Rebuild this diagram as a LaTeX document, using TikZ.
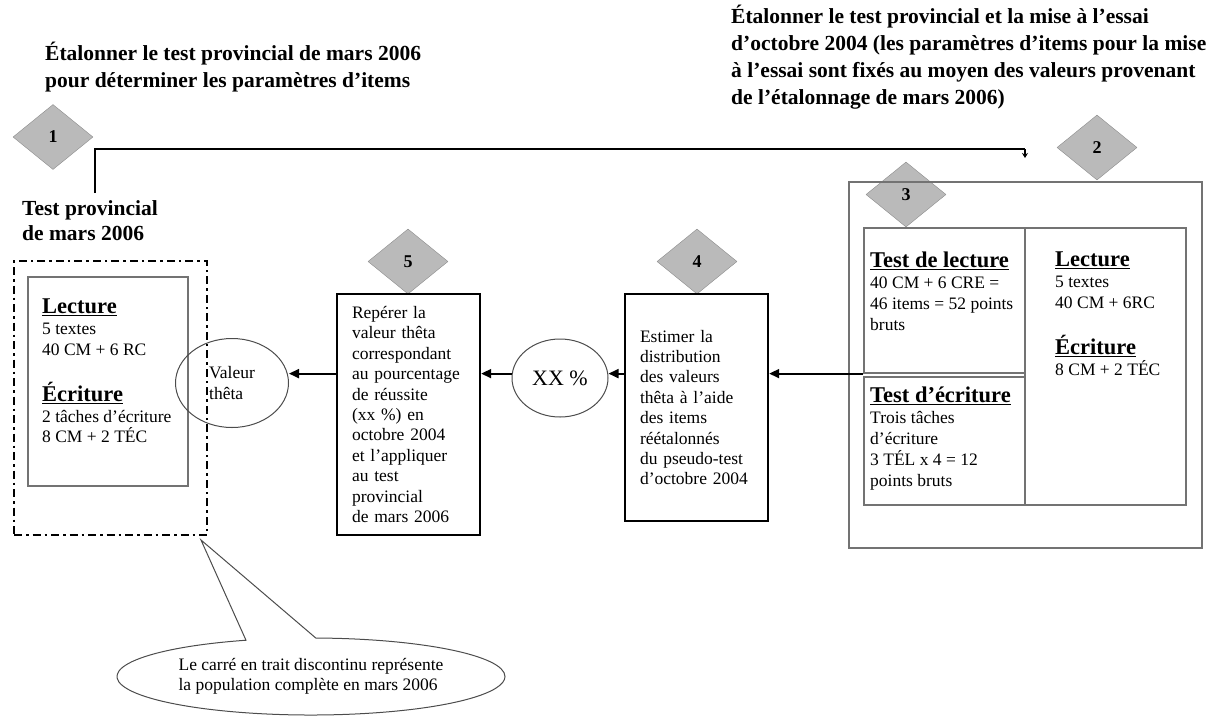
\documentclass[tikz,border=0pt]{standalone}
\usepackage{fontspec}
\setmainfont{Liberation Serif}
\usetikzlibrary{arrows.meta,positioning,shapes.geometric,shapes.callouts}
\tikzset{
  diam/.style     = {diamond, draw=black!45, fill=black!27, minimum width=80pt,
                     minimum height=65pt, inner sep=0pt,
                     font=\fontsize{18}{20}\selectfont\bfseries},
  thinbox/.style  = {draw=black!55, line width=1.2pt, inner sep=0pt},
  stepbox/.style  = {draw, line width=2.4pt, align=left, inner ysep=0pt,
                     font=\fontsize{17.5}{20.4}\selectfont},
  dashdot/.style  = {draw, line width=2.6pt, inner sep=0pt,
                     dash pattern=on 8pt off 4pt on 2.5pt off 4pt},
  oval/.style     = {ellipse, draw=black!70, line width=1pt, inner sep=0pt,
                     align=left, font=\fontsize{17.5}{20.4}\selectfont},
  wire/.style     = {line width=1.8pt},
  arr/.style      = {wire, -{Triangle[length=10pt,width=9pt]}},
  head/.style     = {anchor=north west, align=left, inner sep=0pt,
                     font=\fontsize{21.5}{26.8}\selectfont\bfseries},
  txt/.style      = {anchor=north west, align=left, inner sep=0pt,
                     font=\fontsize{17.5}{20.8}\selectfont},
}
\newcommand{\hd}[1]{{\fontsize{22.5}{24}\selectfont\bfseries\underline{#1}}}

\begin{document}
\begin{tikzpicture}[x=1pt,y=-1pt]
  \useasboundingbox (0,0) rectangle (1221,716);
  % headings
  \node[head] (t1) at (45,42) {Étalonner le test provincial de mars 2006\\
    pour déterminer les paramètres d’items};
  \node[head] (t2) at (731,5) {Étalonner le test provincial et la mise à l’essai\\
    d’octobre 2004 (les paramètres d’items pour la mise\\
    à l’essai sont fixés au moyen des valeurs provenant\\
    de l’étalonnage de mars 2006)};
  \node[head,font=\fontsize{21.5}{25.5}\selectfont\bfseries] (prov) at (22,200)
    {Test provincial\\de mars 2006};
  % numbered diamonds
  \node[diam] (d1) at (53,137) {1};
  \node[diam] (d2) at (1097,147.5) {2};
  \node[diam] (d3) at (906,194.5) {3};
  \node[diam] (d4) at (697,261.5) {4};
  \node[diam] (d5) at (408,261.5) {5};
  % link from step 1 to step 2
  \coordinate (c1) at (95,193);
  \coordinate (c2) at (1025,149);
  \coordinate (c3) at (1025,158);
  \draw[wire] (c1) |- (c2);
  \draw[line width=1.2pt,-{Stealth[length=5pt,width=6pt]}] (c2) -- (c3);
  %
  % population of mars 2006
  \node[dashdot, minimum width=193, minimum height=274] (pop) at (110.5,398) {};
  \node[thinbox, minimum width=160, minimum height=209] (lect1) at (108,381.5) {};
  \node[txt] (lect1txt) at (42,299) {\hd{Lecture}\\5 textes\\40 CM + 6 RC\\[25pt]
    \hd{Écriture}\\2 tâches d’écriture\\8 CM + 2 TÉC};
  \node[oval, minimum width=113, minimum height=89] (theta) at (232,383)
    {Valeur\\thêta};
  %
  \node[stepbox, text width=113, inner xsep=15, minimum height=241] (box5)
    at (408.5,414.5) {Repérer la\\valeur thêta\\correspondant\\au pourcentage\\
    de réussite\\(xx~\%) en\\octobre 2004\\et l’appliquer\\au test\\provincial\\
    de mars 2006};
  \node[oval, minimum width=96, minimum height=78,
    font=\fontsize{22}{24}\selectfont] (xx) at (560,378) {XX~\%};
  \node[stepbox, text width=113, inner xsep=15, minimum height=227] (box4)
    at (696.5,407.5) {Estimer la\\distribution\\des valeurs\\thêta à l’aide\\
    des items\\réétalonnés\\du pseudo-test\\d’octobre 2004};
  %
  % step 2 and 3
  \node[thinbox, minimum width=353, minimum height=366] (box2) at (1025.5,365) {};
  \node[thinbox, minimum width=161, minimum height=145] (tl) at (944.5,300.5) {};
  \node[thinbox, minimum width=161, minimum height=128] (bl) at (944.5,441) {};
  \node[thinbox, minimum width=161, minimum height=277] (rb) at (1105.5,366.5) {};
  \node[txt] (lectest) at (870,252) {\hd{Test de lecture}\\40 CM + 6 CRE =\\
    46 items = 52 points\\bruts};
  \node[txt] (ecrtest) at (870,387) {\hd{Test d’écriture}\\Trois tâches\\
    d’écriture\\3 TÉL x 4 = 12\\points bruts};
  \node[txt] (lect2txt) at (1055,252) {\hd{Lecture}\\5 textes\\40 CM + 6RC\\[25pt]
    \hd{Écriture}\\8 CM + 2 TÉC};
  %
  % arrows right to left
  \draw[arr] (tl.south west) -- (box4.east |- tl.south);
  \draw[arr] (box4.west |- tl.south) -- (xx.east |- tl.south);
  \draw[arr] (xx.west |- tl.south) -- (box5.east |- tl.south);
  \draw[arr] (box5.west |- tl.south) -- (theta.east |- tl.south);
  %
  % note
  \coordinate (tip) at (201,540);
  \node[ellipse callout, draw=black!70, line width=1pt, inner sep=0pt,
    minimum width=388, minimum height=77, callout absolute pointer={(tip)},
    callout pointer arc=21, align=left, font=\fontsize{17.5}{20}\selectfont]
    (note) at (311,676.5) {Le carré en trait discontinu représente\\
    la population complète en mars 2006};
\end{tikzpicture}
\end{document}
